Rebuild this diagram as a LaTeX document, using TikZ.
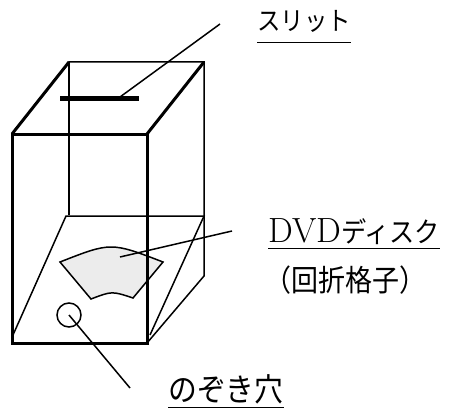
\documentclass[tikz,border=0pt]{standalone}
\usepackage{fontspec}
\newfontfamily\jp[FakeStretch=0.9]{Noto Sans CJK JP}
\usetikzlibrary{calc}

\begin{document}
\begin{tikzpicture}
		[x=1pt,y=-1pt,line join=miter,
		thinline/.style={line width=1.5pt},
		thickline/.style={line width=3pt},
		lbl/.style={inner sep=0pt,anchor=base west,font=\jp\fontsize{#1}{30}\selectfont},
		lbl/.default=28]
		\useasboundingbox (0,0) rectangle (449,409);
		
		% corners of the box
		\coordinate (fa) at (12,134);  \coordinate (fb) at (147,134);
		\coordinate (fc) at (147,343); \coordinate (fd) at (12,343);
		\coordinate (ba) at (69,62);   \coordinate (bb) at (204,62);
		\coordinate (bc) at (204,276); \coordinate (bd) at (69,215);
		% slanted floor carrying the disc
		\coordinate (pa) at (66,216);  \coordinate (pb) at (204,216);
		\coordinate (pc) at (150,335); \coordinate (pd) at (13,335);
		
		\draw[thinline] (fa) -- (ba) -- (bb) -- (bc) -- (fc);
		\draw[thinline] (ba) -- (bd);
		\draw[thinline] (pd) -- (pa) -- (pb) -- (pc);
		
		% disc piece
		\draw[thinline,fill=gray!15] (60,262) .. controls (111,242) .. (163,262)
			-- (133,298) .. controls (112,291) .. (91,299) -- cycle;
		\node[circle,draw,thinline,minimum size=24pt,inner sep=0pt] (hole) at (69,315) {};
		
		% front face and top
		\draw[thickline] (fd) -- (fa) -- (fb) -- (fc) -- cycle;
		\draw[thickline] (fa) -- (ba);
		\draw[thickline] (fb) -- (bb);
		\draw[line width=5pt] (60,99) -- (139,99);
		
		\node[lbl=26,text depth=11pt] (slitlbl) at (257,31) {スリット};
		\node[lbl,text depth=6pt] (dvdlbl) at (268,242) {{\rmfamily\fontsize{35}{30}\selectfont DVD}ディスク};
		\node[lbl=30] (gratlbl) at (264,291) {（回折格子）};
		\node[lbl=32,text depth=6pt] (holelbl) at (168,401) {のぞき穴};
		\foreach \n in {slitlbl,dvdlbl,holelbl}
		\draw[line width=1pt] (\n.south west) -- (\n.south east);
		
		% leaders
		\coordinate (slitpt) at (120,97);  \coordinate (slitend) at (220,24);
		\coordinate (discpt) at (120,257); \coordinate (discend) at (232,231);
		\coordinate (holeend) at (130,388);
		\foreach \from/\to in {slitpt/slitend,discpt/discend,hole.center/holeend}
		\draw[thinline] (\from) -- (\to);
		\end{tikzpicture}
\end{document}
